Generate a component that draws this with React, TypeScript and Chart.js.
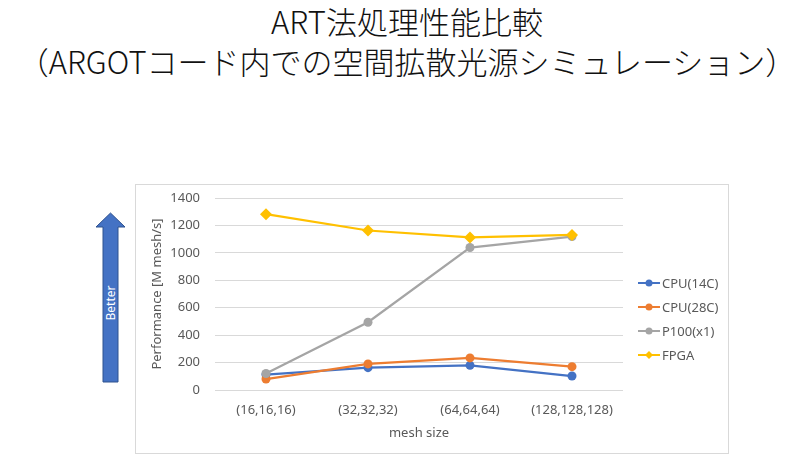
import React, { useEffect, useRef } from "react";
import { Chart, registerables } from "chart.js";

Chart.register(...registerables);

const titleLines = ["ART法処理性能比較", "（ARGOTコード内での空間拡散光源シミュレーション）"];
const categories = ["(16,16,16)", "(32,32,32)", "(64,64,64)", "(128,128,128)"];
const seriesNames = ["CPU(14C)", "CPU(28C)", "P100(x1)", "FPGA"];
const cpu14 = [113, 163, 180, 102];
const cpu28 = [80, 190, 234, 170];
const p100 = [120, 494, 1039, 1119];
const fpga = [1282, 1163, 1112, 1131];
const yTicks = [0, 200, 400, 600, 800, 1000, 1200, 1400];
const seriesColors = ["#4472C4", "#ED7D31", "#A5A5A5", "#FFC000"];
const seriesShapes = ["circle", "circle", "circle", "rectRot"];
const xTitle = "mesh size";
const yTitle = "Performance [M mesh/s]";
const arrowLabel = "Better";

const TEXT = "#595959";
const FONT = "'Noto Sans', 'Open Sans', sans-serif";

const legendPlugin = {
  id: "lineLegend",
  afterDraw(chart: any) {
    const ctx = chart.ctx;
    const ds = chart.data.datasets;
    ctx.save();
    ds.forEach((d: any, i: number) => {
      const y = 98 + i * 24;
      const x0 = 502;
      ctx.strokeStyle = d.borderColor;
      ctx.lineWidth = 2;
      ctx.beginPath();
      ctx.moveTo(x0, y);
      ctx.lineTo(x0 + 22, y);
      ctx.stroke();
      ctx.fillStyle = d.borderColor;
      ctx.beginPath();
      if (d.pointStyle === "rectRot") {
        const r = 4;
        ctx.moveTo(x0 + 11 - r, y);
        ctx.lineTo(x0 + 11, y - r);
        ctx.lineTo(x0 + 11 + r, y);
        ctx.lineTo(x0 + 11, y + r);
        ctx.closePath();
      } else {
        ctx.arc(x0 + 11, y, 3.5, 0, Math.PI * 2);
      }
      ctx.fill();
      ctx.fillStyle = TEXT;
      ctx.font = `13px ${FONT}`;
      ctx.textBaseline = "middle";
      ctx.textAlign = "left";
      ctx.fillText(d.label, x0 + 24, y + 1);
    });
    ctx.restore();
  },
};

export default function App() {
  const ref = useRef<HTMLCanvasElement>(null);

  useEffect(() => {
    if (!ref.current) return;
    const values = [cpu14, cpu28, p100, fpga];
    const chart = new Chart(ref.current, {
      type: "line",
      data: {
        labels: categories,
        datasets: values.map((v, i) => ({
          label: seriesNames[i],
          data: v,
          borderColor: seriesColors[i],
          backgroundColor: seriesColors[i],
          borderWidth: 2.25,
          pointStyle: seriesShapes[i] as any,
          pointRadius: seriesShapes[i] === "rectRot" ? 6 : 4.5,
          pointBorderWidth: 0,
          tension: 0,
          order: 3 - i,
        })),
      },
      options: {
        animation: false,
        responsive: false,
        maintainAspectRatio: false,
        layout: { padding: { top: 13, right: 105, left: 0, bottom: 0 } },
        plugins: {
          legend: { display: false },
          tooltip: { enabled: false },
        },
        scales: {
          x: {
            offset: true,
            grid: { display: false, drawTicks: false },
            border: { display: false },
            ticks: { color: TEXT, font: { family: FONT, size: 13 }, padding: 12, maxRotation: 0 },
            title: { display: true, text: xTitle, color: TEXT, font: { family: FONT, size: 13 }, padding: { top: 6, bottom: 12 } },
            afterFit: (s: any) => { s.height = 63; },
          },
          y: {
            min: 0,
            max: 1400,
            afterBuildTicks: (s: any) => { s.ticks = yTicks.map((v) => ({ value: v })); },
            grid: { color: "#D9D9D9", lineWidth: 1, drawTicks: false },
            border: { display: false },
            ticks: {
              color: TEXT,
              font: { family: FONT, size: 13 },
              padding: 15,
              callback: (v: any) => String(v),
            },
            title: { display: true, text: yTitle, color: TEXT, font: { family: FONT, size: 13 }, padding: { top: 13, bottom: 4 } },
            afterFit: (s: any) => {
              s.width = 79;
              s.paddingTop = 0;
              s.paddingBottom = 0;
            },
          },
        },
      },
      plugins: [legendPlugin],
    });
    return () => chart.destroy();
  }, []);

  return (
    <div style={{ position: "absolute", left: 0, top: 0, width: 800, height: 466, background: "#fff", overflow: "hidden" }}>
      <div
        style={{
          position: "absolute",
          left: 0,
          top: 1,
          width: 814,
          textAlign: "center",
          fontFamily: "'Noto Sans CJK JP', sans-serif",
          fontWeight: 300,
          fontSize: 31,
          lineHeight: "40px",
          color: "#111",
          whiteSpace: "nowrap",
        }}
      >
        {titleLines.map((t, i) => (
          <div key={i}>{t}</div>
        ))}
      </div>
      <svg style={{ position: "absolute", left: 0, top: 0 }} width={800} height={466}>
        <polygon
          points="103,382 118,382 118,227 125,227 110.5,213 96,227 103,227"
          fill="#4472C4"
          stroke="#2F528F"
          strokeWidth={1}
        />
        <text
          x={0}
          y={0}
          transform="translate(111.5,303) rotate(-90)"
          fill="#fff"
          fontFamily={FONT}
          fontSize={12}
          textAnchor="middle"
          dominantBaseline="middle"
        >
          {arrowLabel}
        </text>
      </svg>
      <div
        style={{
          position: "absolute",
          left: 135,
          top: 184,
          width: 594,
          height: 270,
          boxSizing: "border-box",
          border: "1px solid #D9D9D9",
          background: "#fff",
        }}
      >
        <canvas ref={ref} width={592} height={268} style={{ display: "block" }} />
      </div>
    </div>
  );
}
